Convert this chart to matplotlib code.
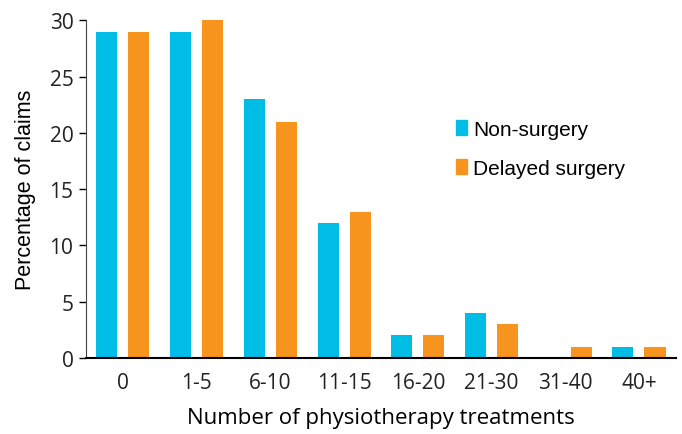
import numpy as np
import matplotlib.pyplot as plt
from matplotlib.patches import Patch

categories = ['0', '1-5', '6-10', '11-15', '16-20', '21-30', '31-40', '40+']
non_surgery = [29, 29, 23, 12, 2, 4, 0, 1]
delayed_surgery = [29, 30, 21, 13, 2, 3, 1, 1]

cyan = '#00BDE5'
orange = '#F7941E'

fig = plt.figure(figsize=(6.82, 4.35), dpi=100)
ax = fig.add_axes([0.126, 0.175, 0.865, 0.776])

x = np.arange(len(categories))
w = 0.285
off = 0.217
ax.bar(x - off, non_surgery, w, color=cyan, label='Non-surgery')
ax.bar(x + off, delayed_surgery, w, color=orange, label='Delayed surgery')

ax.set_xlim(-0.5, len(categories) - 0.5)
ax.set_ylim(0, 30)
ax.set_yticks(range(0, 31, 5))
ax.set_xticks(x)
ax.set_xticklabels(categories)

tick_font = 'Open Sans'
for lab in ax.get_xticklabels() + ax.get_yticklabels():
    lab.set_fontfamily(tick_font)
    lab.set_fontsize(15)
    lab.set_color('#222222')

ax.tick_params(axis='x', length=0, pad=10)
ax.tick_params(axis='y', length=5, width=1, pad=4)

for s in ['top', 'right']:
    ax.spines[s].set_visible(False)
ax.spines['left'].set_color('#444444')
ax.spines['bottom'].set_linewidth(1.5)

ax.set_ylabel('Percentage of claims', fontfamily='Liberation Sans', fontsize=15.5, labelpad=10)
ax.set_xlabel('Number of physiotherapy treatments', fontfamily='Open Sans', fontsize=16, labelpad=10)

handles = [Patch(color=cyan), Patch(color=orange)]
ax.legend(handles, ['Non-surgery', 'Delayed surgery'], loc='upper left',
          bbox_to_anchor=(0.595, 0.76), frameon=False, handlelength=0.55, handleheight=0.7,
          handletextpad=0.3, labelspacing=0.95,
          prop={'family': 'Liberation Sans', 'size': 15})

fig.savefig('out.png', dpi=100)
